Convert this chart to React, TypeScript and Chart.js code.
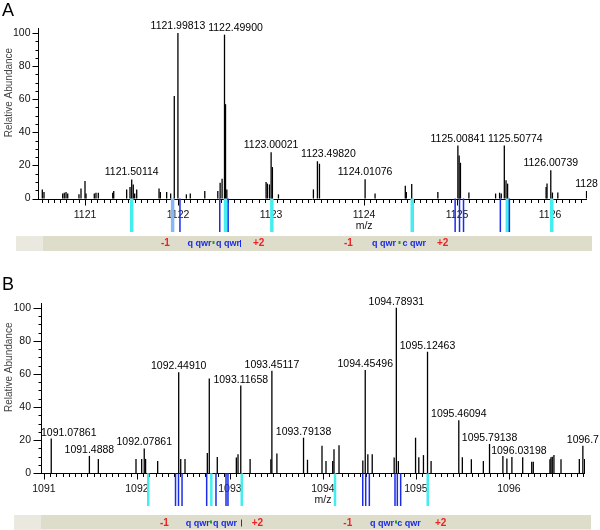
import React, { useEffect, useRef } from 'react';
import { Chart, registerables } from 'chart.js';

Chart.register(...registerables);

const FONT = "'Liberation Sans', Arial, Helvetica, sans-serif";

// ---------------- Panel A data ----------------
const A_PEAK_MZ = [
  1120.540, 1120.558, 1120.759, 1120.776, 1120.795, 1120.813, 1120.934, 1120.956, 1120.999, 1121.010,
  1121.099, 1121.117, 1121.142, 1121.297, 1121.308, 1121.447, 1121.483, 1121.50114, 1121.518, 1121.533,
  1121.555, 1121.795, 1121.809, 1121.877, 1121.920, 1121.959, 1121.99813, 1122.089, 1122.131, 1122.287,
  1122.427, 1122.452, 1122.473, 1122.49900, 1122.510, 1122.524, 1122.946, 1122.960, 1122.982, 1123.00021,
  1123.014, 1123.079, 1123.455, 1123.49820, 1123.520, 1124.01076, 1124.118, 1124.443, 1124.454, 1124.512,
  1124.793, 1125.00841, 1125.022, 1125.036, 1125.127, 1125.414, 1125.457, 1125.475, 1125.50774, 1125.526,
  1125.543, 1125.957, 1125.967, 1126.00739, 1126.025, 1126.083, 1126.392,
];
const A_PEAK_ABUND = [
  5.5, 4, 3, 3.4, 4, 3, 2.5, 6, 10.5, 3,
  3, 3.5, 3.5, 3.5, 4.5, 5.5, 7, 11.5, 8.5, 3,
  5.5, 6, 4, 4, 3, 62, 100, 2.5, 3, 4.5,
  4.5, 9.5, 12, 99, 57, 5.5, 10, 9, 8.5, 28,
  19, 2.5, 5.5, 22.5, 21, 11.7, 3, 7.7, 4, 8.7,
  4, 32, 26, 21.6, 3.6, 3, 3.5, 3, 32, 11,
  9, 7, 9, 17, 3.6, 3.6, 4.5,
];
const A_LABEL_MZ = [1121.50114, 1121.99813, 1122.49900, 1123.00021, 1123.49820, 1124.01076, 1125.00841, 1125.50774, 1126.00739, 1126.392];
const A_LABEL_TEXT = ['1121.50114', '1121.99813', '1122.49900', '1123.00021', '1123.49820', '1124.01076', '1125.00841', '1125.50774', '1126.00739', '1128'];
const A_CYAN_MZ = [1121.501, 1122.510, 1123.008, 1124.518, 1125.540, 1126.018];
const A_LIGHTBLUE_MZ = [1121.941];
const A_BLUE_MZ = [1122.020, 1122.448, 1122.538, 1124.979, 1125.026, 1125.069, 1125.465, 1125.562];
const A_X_TICKS = [1121, 1122, 1123, 1124, 1125, 1126];

// ---------------- Panel B data ----------------
const B_PEAK_MZ = [
  1091.07861, 1091.4888, 1091.585, 1091.990, 1092.051, 1092.07861, 1092.093, 1092.223, 1092.44910, 1092.471,
  1092.517, 1092.757, 1092.778, 1092.864, 1093.069, 1093.087, 1093.11658, 1093.217, 1093.440, 1093.45117,
  1093.505, 1093.79138, 1093.834, 1093.990, 1094.033, 1094.105, 1094.119, 1094.173, 1094.429, 1094.45496,
  1094.483, 1094.530, 1094.766, 1094.78931, 1094.811, 1094.996, 1095.031, 1095.081, 1095.12463, 1095.163,
  1095.46094, 1095.499, 1095.596, 1095.725, 1095.79138, 1095.935, 1095.978, 1096.03198, 1096.148, 1096.245,
  1096.262, 1096.441, 1096.452, 1096.466, 1096.484, 1096.560, 1096.757, 1096.795, 1096.814,
];
const B_PEAK_ABUND = [
  21, 10.5, 8.7, 8.7, 8.7, 15, 8.7, 7.5, 61, 8.7,
  8.7, 12.3, 57.3, 9.9, 9.5, 11.5, 53, 8.7, 8.5, 62,
  12, 21.5, 8.2, 16.7, 7.4, 7.4, 14.5, 17, 7.8, 62.4,
  11.5, 11.5, 9.5, 100, 7.4, 21.5, 9.7, 11, 73.4, 7.4,
  32, 9.7, 8.5, 7.4, 17.7, 10.5, 9, 9.8, 9.7, 7,
  7, 8.5, 9.7, 10, 11, 8.5, 8.7, 16.7, 8.7,
];
const B_LABEL_MZ = [1091.07861, 1091.4888, 1092.07861, 1092.44910, 1093.11658, 1093.45117, 1093.79138, 1094.45496, 1094.78931, 1095.12463, 1095.46094, 1095.79138, 1096.03198, 1096.795];
const B_LABEL_TEXT = ['1091.07861', '1091.4888', '1092.07861', '1092.44910', '1093.11658', '1093.45117', '1093.79138', '1094.45496', '1094.78931', '1095.12463', '1095.46094', '1095.79138', '1096.03198', '1096.7'];
const B_CYAN_MZ = [1092.122, 1092.800, 1093.127, 1094.130, 1095.127];
const B_LIGHTBLUE_MZ: number[] = [];
const B_BLUE_MZ = [1092.415, 1092.447, 1092.485, 1092.750, 1092.850, 1092.958, 1092.979, 1094.428, 1094.460, 1094.499, 1094.775, 1094.800, 1094.836];
const B_X_TICKS = [1091, 1092, 1093, 1094, 1095, 1096];

const Y_TICKS = [0, 20, 40, 60, 80, 100];

const RED = '#f02020';
const BLUE = '#1a2ce8';
const GREEN = '#20a020';

type BandItem = [string, number, string];

type PanelCfg = {
  peakMz: number[]; peakAb: number[]; labelMz: number[]; labelText: string[];
  cyan: number[]; light: number[]; blue: number[]; xTicks: number[];
  xMin: number; xMax: number; yMin: number; yMax: number;
  padding: { left: number; right: number; top: number; bottom: number };
  letter: string; letterBase: number;
  band: { top: number; h: number; left: number; right: number; base: number };
  bandText: BandItem[]; dots: number[]; bars: number[];
  yTickLen: number; yLabelGap: number; labelGap: number; cyanW: number;
};

const PANEL_A: PanelCfg = {
  peakMz: A_PEAK_MZ, peakAb: A_PEAK_ABUND, labelMz: A_LABEL_MZ, labelText: A_LABEL_TEXT,
  cyan: A_CYAN_MZ, light: A_LIGHTBLUE_MZ, blue: A_BLUE_MZ, xTicks: A_X_TICKS,
  xMin: 1120.4936, xMax: 1126.3968, yMin: -20.24, yMax: 107.85,
  padding: { left: 38, right: 13, top: 20, bottom: 33 },
  letter: 'A', letterBase: 16,
  band: { top: 236, h: 15, left: 16, right: 592, base: 246 },
  bandText: [['-1', 161, RED], ['q qwr', 187.5, BLUE], ['q qwr', 216, BLUE], ['+2', 253, RED],
    ['-1', 344, RED], ['q qwr', 372, BLUE], ['c qwr', 402.5, BLUE], ['+2', 437, RED]],
  dots: [212.5, 398.5], bars: [240],
  yTickLen: 6, yLabelGap: 7.5, labelGap: 4, cyanW: 3.5,
};

const PANEL_B: PanelCfg = {
  peakMz: B_PEAK_MZ, peakAb: B_PEAK_ABUND, labelMz: B_LABEL_MZ, labelText: B_LABEL_TEXT,
  cyan: B_CYAN_MZ, light: B_LIGHTBLUE_MZ, blue: B_BLUE_MZ, xTicks: B_X_TICKS,
  xMin: 1090.9685, xMax: 1096.818, yMin: -19.75, yMax: 107.67,
  padding: { left: 41, right: 15, top: 30, bottom: 24 },
  letter: 'B', letterBase: 25,
  band: { top: 250, h: 14.5, left: 14, right: 591, base: 260.5 },
  bandText: [['-1', 160, RED], ['q qwr', 185.7, BLUE], ['q qwr', 213, BLUE], ['+2', 251.7, RED],
    ['-1', 343.3, RED], ['q qwr', 370, BLUE], ['c qwr', 397.3, BLUE], ['+2', 435, RED]],
  dots: [210, 395], bars: [241],
  yTickLen: 8, yLabelGap: 10, labelGap: 3, cyanW: 2.5,
};

function decorPlugin(p: PanelCfg) {
  return {
    id: 'decor' + p.letter,
    beforeDatasetsDraw(chart: any) {
      const ctx = chart.ctx as CanvasRenderingContext2D;
      const xs = chart.scales.x;
      const ys = chart.scales.y;
      const a = chart.chartArea;
      ctx.save();
      // panel letter
      ctx.fillStyle = '#000';
      ctx.font = `18px ${FONT}`;
      ctx.textAlign = 'left';
      ctx.textBaseline = 'alphabetic';
      ctx.fillText(p.letter, 2, p.letterBase);
      // band
      ctx.fillStyle = '#dedccb';
      ctx.fillRect(p.band.left, p.band.top, p.band.right - p.band.left, p.band.h);
      ctx.fillStyle = '#eae9e0';
      ctx.fillRect(p.band.left, p.band.top, 27, p.band.h);
      for (const [t, x, c] of p.bandText) {
        ctx.fillStyle = c;
        ctx.font = c === RED ? `bold 10px ${FONT}` : `bold 9px ${FONT}`;
        ctx.fillText(t, x, p.band.base);
      }
      ctx.fillStyle = GREEN;
      for (const d of p.dots) ctx.fillRect(d, p.band.base - 5, 2, 3);
      ctx.fillStyle = BLUE;
      for (const b of p.bars) ctx.fillRect(b, p.band.base - 6, 1, 7);

      // axes
      const y0 = Math.round(ys.getPixelForValue(0)) + 0.5;
      const xl = Math.round(a.left) + 0.5;
      ctx.strokeStyle = '#000';
      ctx.lineWidth = 1;
      ctx.beginPath();
      ctx.moveTo(a.left, y0);
      ctx.lineTo(a.right, y0);
      ctx.moveTo(xl, y0);
      ctx.lineTo(xl, Math.round(ys.getPixelForValue(103)));
      for (let k = Math.ceil(p.xMin * 15); k <= Math.floor(p.xMax * 15); k++) {
        const px = Math.round(xs.getPixelForValue(k / 15)) + 0.5;
        const len = k % 15 === 0 ? 6 : 3.5;
        ctx.moveTo(px, y0);
        ctx.lineTo(px, y0 + len);
      }
      for (let v = 0; v <= 100; v += 5) {
        const py = Math.round(ys.getPixelForValue(v)) + 0.5;
        const len = v % 20 === 0 ? p.yTickLen : 3;
        ctx.moveTo(xl - len, py);
        ctx.lineTo(xl, py);
      }
      ctx.stroke();

      // y labels
      ctx.fillStyle = '#111';
      ctx.font = `10.5px ${FONT}`;
      ctx.textAlign = 'right';
      ctx.textBaseline = 'middle';
      for (const v of Y_TICKS) ctx.fillText(String(v), a.left - p.yLabelGap, ys.getPixelForValue(v));
      // x labels
      ctx.textAlign = 'center';
      ctx.textBaseline = 'alphabetic';
      for (const v of p.xTicks) ctx.fillText(String(v), xs.getPixelForValue(v), y0 + 18);
      const mid = p.xTicks[Math.floor(p.xTicks.length / 2)];
      ctx.fillText('m/z', xs.getPixelForValue(mid), y0 + 29.5);
      // y title
      ctx.save();
      ctx.translate(12, ys.getPixelForValue(64));
      ctx.rotate(-Math.PI / 2);
      ctx.fillStyle = '#444';
      ctx.font = `10px ${FONT}`;
      ctx.textAlign = 'center';
      ctx.textBaseline = 'alphabetic';
      ctx.fillText('Relative Abundance', 0, 0);
      ctx.restore();
      ctx.restore();
    },
    afterDatasetsDraw(chart: any) {
      const ctx = chart.ctx as CanvasRenderingContext2D;
      const xs = chart.scales.x;
      const ys = chart.scales.y;
      const a = chart.chartArea;
      ctx.save();
      ctx.font = `10.5px ${FONT}`;
      ctx.fillStyle = '#000';
      ctx.textAlign = 'left';
      ctx.textBaseline = 'alphabetic';
      const peaks = p.peakMz.map((mz, i) => ({ x: xs.getPixelForValue(mz), top: ys.getPixelForValue(p.peakAb[i]) }));
      const labels = p.labelMz.map((mz, i) => {
        const idx = p.peakMz.indexOf(mz);
        return { idx, text: p.labelText[i], ab: p.peakAb[idx] };
      });
      labels.sort((u, v) => v.ab - u.ab);
      const placed: { l: number; r: number; t: number; b: number }[] = [];
      const pad = 2;
      for (const lab of labels) {
        const pk = peaks[lab.idx];
        const base = pk.top - p.labelGap;
        const w = ctx.measureText(lab.text).width;
        const t = base - 8;
        const b = base + 1;
        const collides = (l: number, r: number) => {
          for (const q of placed) {
            if (l < q.r + pad && r > q.l - pad && t < q.b + pad && b > q.t - pad) return true;
          }
          for (let j = 0; j < peaks.length; j++) {
            if (j === lab.idx) continue;
            const q = peaks[j];
            if (q.x >= l - 1 && q.x <= r + 1 && q.top < b) return true;
          }
          return false;
        };
        let left = Math.max(a.left, pk.x - w / 2);
        let found = false;
        for (let s = 0; s <= 80 && !found; s++) {
          const ds = s === 0 ? [0] : [s, -s];
          for (const d of ds) {
            const l = Math.max(a.left, pk.x - w / 2 + d);
            if (!collides(l, l + w)) { left = l; found = true; break; }
          }
        }
        placed.push({ l: left, r: left + w, t, b });
        ctx.fillText(lab.text, left, base);
      }
      ctx.restore();
    },
  };
}

function Panel({ cfg }: { cfg: PanelCfg }) {
  const ref = useRef<HTMLCanvasElement>(null);
  useEffect(() => {
    if (!ref.current) return;
    const depth = cfg.yMin;
    const chart = new Chart(ref.current, {
      type: 'bar',
      data: {
        datasets: [
          {
            label: 'peaks',
            data: cfg.peakMz.map((mz, i) => ({ x: mz, y: cfg.peakAb[i] })) as any,
            backgroundColor: '#000',
            barThickness: 1.3,
            grouped: false,
            inflateAmount: 0,
            order: 1,
          } as any,
          {
            label: 'cyan',
            data: cfg.cyan.map((mz) => ({ x: mz, y: [0, depth] })) as any,
            backgroundColor: '#44eeee',
            barThickness: cfg.cyanW,
            grouped: false,
            inflateAmount: 0,
            order: 3,
          } as any,
          {
            label: 'light',
            data: cfg.light.map((mz) => ({ x: mz, y: [0, depth] })) as any,
            backgroundColor: '#88b6f6',
            barThickness: 3.5,
            grouped: false,
            inflateAmount: 0,
            order: 3,
          } as any,
          {
            label: 'blue',
            data: cfg.blue.map((mz) => ({ x: mz, y: [0, depth] })) as any,
            backgroundColor: BLUE,
            barThickness: 1.5,
            grouped: false,
            inflateAmount: 0,
            order: 2,
          } as any,
        ],
      },
      options: {
        responsive: false,
        maintainAspectRatio: false,
        devicePixelRatio: 1,
        animation: false,
        events: [],
        layout: { padding: cfg.padding },
        plugins: { legend: { display: false }, tooltip: { enabled: false }, title: { display: false } },
        scales: {
          x: { type: 'linear', min: cfg.xMin, max: cfg.xMax, bounds: 'data', offset: false, display: false },
          y: { type: 'linear', min: cfg.yMin, max: cfg.yMax, bounds: 'data', display: false },
        },
      } as any,
      plugins: [decorPlugin(cfg)],
    });
    return () => chart.destroy();
  }, [cfg]);
  return <canvas ref={ref} width={600} height={265} style={{ display: 'block', width: 600, height: 265 }} />;
}

export default function App() {
  return (
    <div style={{ position: 'absolute', left: 0, top: 0, width: 600, height: 530, background: '#fff' }}>
      <Panel cfg={PANEL_A} />
      <Panel cfg={PANEL_B} />
    </div>
  );
}
